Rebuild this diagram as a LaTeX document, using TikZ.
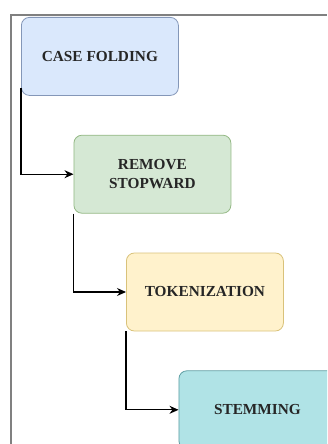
\documentclass[tikz,border=0pt]{standalone}
\usepackage{fontspec}
\setmainfont{Liberation Serif}
\usepackage{tikz}
\usetikzlibrary{arrows.meta,positioning}

\definecolor{blueFill}{HTML}{DAE8FC}
\definecolor{blueLine}{HTML}{8497B8}
\definecolor{greenFill}{HTML}{D5E8D4}
\definecolor{greenLine}{HTML}{93B884}
\definecolor{yellowFill}{HTML}{FFF2CC}
\definecolor{yellowLine}{HTML}{D9C27A}
\definecolor{tealFill}{HTML}{B0E3E6}
\definecolor{tealLine}{HTML}{5E9EA3}

\begin{document}
\begin{tikzpicture}[
  font=\fontsize{15.3}{19.5}\selectfont\bfseries,
  box/.style={draw=#1Line, fill=#1Fill, rounded corners=8pt, align=center,
              minimum height=78pt, minimum width=157pt, inner sep=0pt,
              text=black!85, line width=0.8pt},
  arrow/.style={-{Stealth[length=9pt, width=8pt]}, line width=1.1pt},
  node distance=39pt
]
\useasboundingbox (0,0) rectangle (327pt,-444pt);
\clip (0,0) rectangle (327pt,-444pt);

% outer frame
\coordinate (frameTop) at (327pt,-15pt);
\coordinate (frameBot) at (11pt,-444pt);
\draw[gray, line width=1.2pt] (frameBot) |- (frameTop);

\node[box=blue, anchor=north west] (case) at (21pt,-17pt) {CASE FOLDING};
\node[box=green, below=of case.south west, anchor=north west, xshift=52.5pt] (stop) {REMOVE\\STOPWARD};
\node[box=yellow, below=of stop.south west, anchor=north west, xshift=52.5pt] (token) {TOKENIZATION};
\node[box=teal, below=of token.south west, anchor=north west, xshift=52.5pt] (stem) {STEMMING};

\draw[arrow] ([yshift=8pt]case.south west) |- (stop.west);
\draw[arrow] (stop.south west) |- (token.west);
\draw[arrow] (token.south west) |- (stem.west);
\end{tikzpicture}
\end{document}
